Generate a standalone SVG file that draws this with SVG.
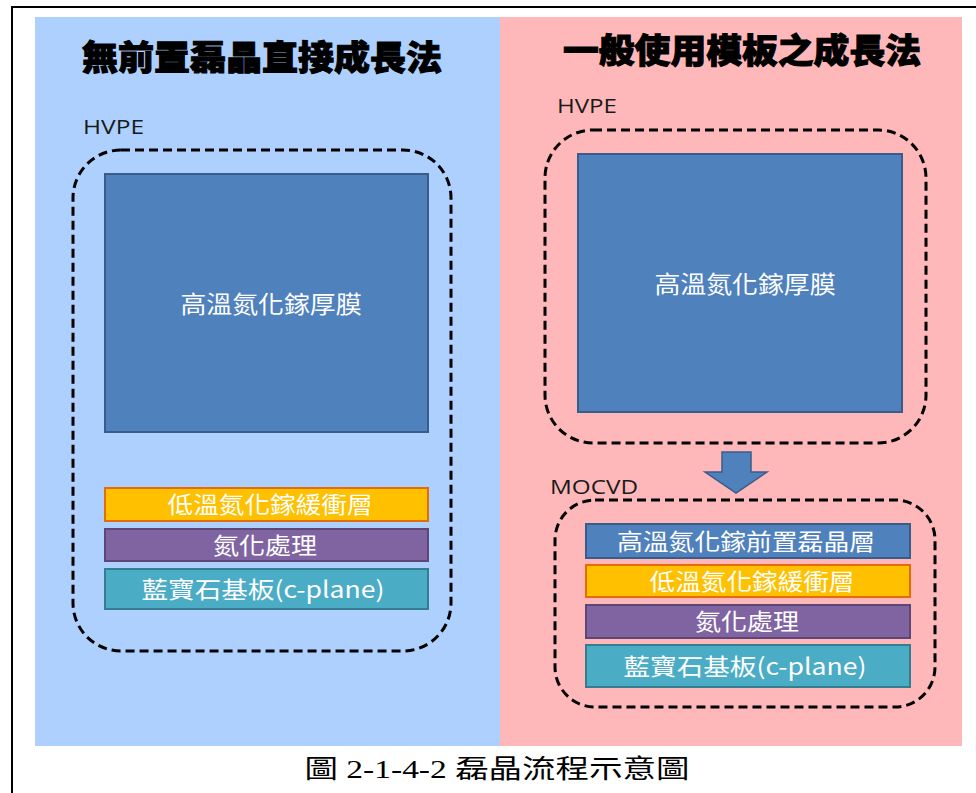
<svg xmlns="http://www.w3.org/2000/svg" width="976" height="793" viewBox="0 0 976 793">
<style>
.title{font-family:"Noto Sans CJK TC","Noto Sans CJK SC",sans-serif;font-weight:900;font-size:34px;fill:#000;stroke:#000;stroke-width:1}
.lbl{font-family:"Open Sans","Noto Sans",sans-serif;font-size:20px;fill:#1a1a1a}
.wt{font-family:"Noto Sans CJK TC",sans-serif;font-size:23px;fill:#fff;text-anchor:middle}
.big{font-size:24px}
.dash{fill:none;stroke:#000;stroke-width:3;stroke-dasharray:9 5}
.gan{fill:#4F81BD;stroke:#385D8A;stroke-width:2}
.buf{fill:#FFC000;stroke:#E46C0A;stroke-width:2}
.nit{fill:#8064A2;stroke:#5C4776;stroke-width:2}
.sap{fill:#4BACC6;stroke:#357D91;stroke-width:2}
.cap{font-family:"Liberation Serif","Noto Sans CJK TC",serif;font-size:26px;fill:#000;text-anchor:middle}
</style>
<rect x="0" y="0" width="976" height="793" fill="#fff"/>
<path d="M12 793 V7 H976" fill="none" stroke="#000" stroke-width="2"/>
<rect x="35" y="17" width="465" height="729" fill="#AED0FE"/>
<rect x="500" y="17" width="462" height="729" fill="#FFB8B9"/>
<g id="left">
<text class="title" x="262" y="70" text-anchor="middle" textLength="360" lengthAdjust="spacingAndGlyphs">無前置磊晶直接成長法</text>
<text class="lbl" x="83" y="134" textLength="61" lengthAdjust="spacingAndGlyphs">HVPE</text>
<rect class="dash" x="73" y="150" width="378" height="501" rx="48"/>
<g id="l-gan"><rect class="gan" x="105" y="174" width="323" height="258"/><text class="wt big" x="271" y="313" textLength="181" lengthAdjust="spacingAndGlyphs">高溫氮化鎵厚膜</text></g>
<g id="l-buf"><rect class="buf" x="105" y="488" width="323" height="33"/><text class="wt" x="270" y="513" textLength="205" lengthAdjust="spacingAndGlyphs">低溫氮化鎵緩衝層</text></g>
<g id="l-nit"><rect class="nit" x="105" y="529" width="323" height="32"/><text class="wt" x="265" y="554" textLength="104" lengthAdjust="spacingAndGlyphs">氮化處理</text></g>
<g id="l-sap"><rect class="sap" x="105" y="569" width="323" height="40"/><text class="wt" x="263" y="598" textLength="243" lengthAdjust="spacingAndGlyphs">藍寶石基板(c-plane)</text></g>
</g>
<g id="right">
<text class="title" x="742" y="63" text-anchor="middle" textLength="358" lengthAdjust="spacingAndGlyphs">一般使用模板之成長法</text>
<text class="lbl" x="557" y="113" textLength="60" lengthAdjust="spacingAndGlyphs">HVPE</text>
<rect class="dash" x="545" y="130" width="381" height="313" rx="48"/>
<g id="r-gan"><rect class="gan" x="578" y="154" width="324" height="258"/><text class="wt big" x="745" y="293" textLength="181" lengthAdjust="spacingAndGlyphs">高溫氮化鎵厚膜</text></g>
<text class="lbl" x="550" y="494" textLength="88" lengthAdjust="spacingAndGlyphs">MOCVD</text>
<rect class="dash" x="555" y="500" width="380" height="207" rx="40"/>
<g id="r-pre"><rect class="gan" x="586" y="524" width="324" height="34"/><text class="wt" x="746" y="550" textLength="258" lengthAdjust="spacingAndGlyphs">高溫氮化鎵前置磊晶層</text></g>
<g id="r-buf"><rect class="buf" x="586" y="565" width="324" height="32"/><text class="wt" x="752" y="590" textLength="205" lengthAdjust="spacingAndGlyphs">低溫氮化鎵緩衝層</text></g>
<g id="r-nit"><rect class="nit" x="586" y="605" width="324" height="33"/><text class="wt" x="747" y="630" textLength="104" lengthAdjust="spacingAndGlyphs">氮化處理</text></g>
<g id="r-sap"><rect class="sap" x="586" y="645" width="324" height="42"/><text class="wt" x="745" y="675" textLength="243" lengthAdjust="spacingAndGlyphs">藍寶石基板(c-plane)</text></g>
</g>
<g id="connectors">
<path d="M722 452 H751 V472 H767 L736 493 L705 472 H722 Z" fill="#4F81BD" stroke="#385D8A" stroke-width="1.5"/>
</g>
<text class="cap" x="497" y="778" textLength="385" lengthAdjust="spacingAndGlyphs">圖 2-1-4-2 磊晶流程示意圖</text>
</svg>
